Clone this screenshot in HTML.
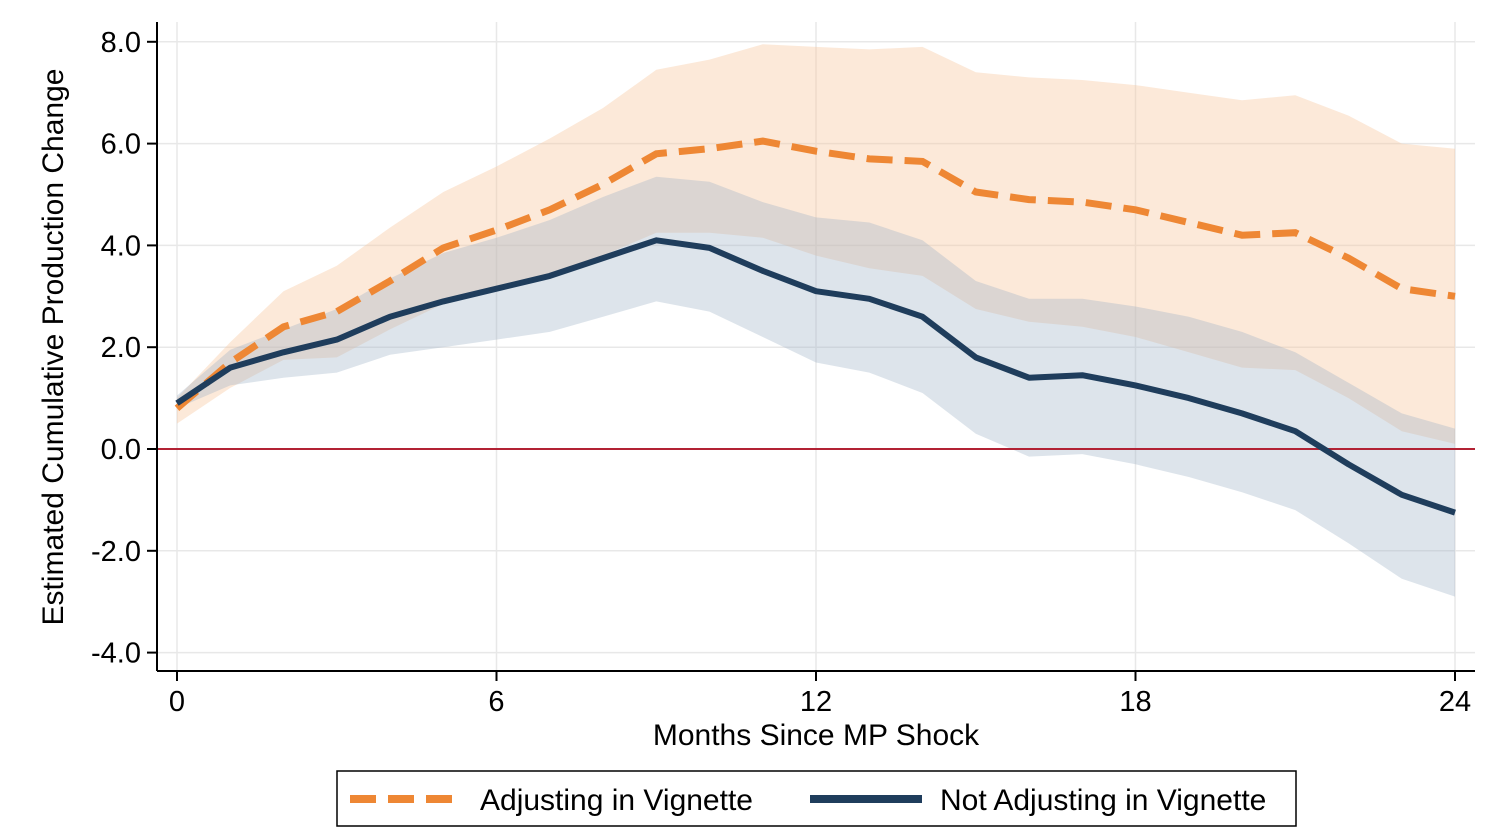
<!DOCTYPE html>
<html><head><meta charset="utf-8"><style>
html,body{margin:0;padding:0;background:#fff;}
svg{display:block;font-family:"Liberation Sans",Arial,sans-serif;}
</style></head><body>
<svg id="s" width="1492" height="835" viewBox="0 0 1492 835" xmlns="http://www.w3.org/2000/svg">
<g id="grid" stroke="#e8e8e8" stroke-width="1.5"></g>
<g id="bands"></g>
<line x1="158" y1="449" x2="1475" y2="449" stroke="#b22234" stroke-width="2"/>
<g id="lines"></g>
<line x1="157" y1="22" x2="157" y2="671" stroke="#000" stroke-width="2"/>
<line x1="157" y1="671" x2="1475" y2="671" stroke="#000" stroke-width="2"/>
<g id="ticks" font-size="29" fill="#000"></g>
<text x="816" y="745" font-size="30" text-anchor="middle">Months Since MP Shock</text>
<text transform="translate(63,347) rotate(-90)" font-size="30" text-anchor="middle">Estimated Cumulative Production Change</text>
<rect x="337" y="771" width="959" height="55" fill="#fff" stroke="#000" stroke-width="1.5"/>
<line x1="350" y1="799" x2="462" y2="799" stroke="#ee8734" stroke-width="8" stroke-dasharray="26,12"/>
<text x="480" y="810" font-size="30">Adjusting in Vignette</text>
<line x1="810" y1="799" x2="922" y2="799" stroke="#1f3d5c" stroke-width="8"/>
<text x="940" y="810" font-size="30">Not Adjusting in Vignette</text>
</svg>
<script>
var X=m=>177+m*53.25, Y=v=>449-v*50.9;
var o=[0.8,1.7,2.4,2.7,3.3,3.95,4.3,4.7,5.2,5.8,5.9,6.05,5.85,5.7,5.65,5.05,4.9,4.85,4.7,4.45,4.2,4.25,3.75,3.15,3.0];
var ou=[1.0,2.1,3.1,3.6,4.35,5.05,5.55,6.1,6.7,7.45,7.65,7.95,7.9,7.85,7.9,7.4,7.3,7.25,7.15,7.0,6.85,6.95,6.55,6.0,5.9];
var ol=[0.5,1.2,1.75,1.8,2.35,2.85,3.1,3.45,3.8,4.25,4.25,4.15,3.8,3.55,3.4,2.75,2.5,2.4,2.2,1.9,1.6,1.55,1.0,0.35,0.1];
var b=[0.9,1.6,1.9,2.15,2.6,2.9,3.15,3.4,3.75,4.1,3.95,3.5,3.1,2.95,2.6,1.8,1.4,1.45,1.25,1.0,0.7,0.35,-0.3,-0.9,-1.25];
var bu=[1.05,1.95,2.35,2.75,3.35,3.85,4.15,4.5,4.95,5.35,5.25,4.85,4.55,4.45,4.1,3.3,2.95,2.95,2.8,2.6,2.3,1.9,1.3,0.7,0.4];
var bl=[0.8,1.25,1.4,1.5,1.85,2.0,2.15,2.3,2.6,2.9,2.7,2.2,1.7,1.5,1.1,0.3,-0.15,-0.1,-0.3,-0.55,-0.85,-1.2,-1.85,-2.55,-2.9];
var NS="http://www.w3.org/2000/svg";
function el(p,t,a,txt){var e=document.createElementNS(NS,t);for(var k in a)e.setAttribute(k,a[k]);if(txt!=null)e.textContent=txt;document.getElementById(p).appendChild(e);}
function pts(a){return a.map((v,i)=>X(i).toFixed(1)+","+Y(v).toFixed(1)).join(" ");}
function band(u,l){return pts(u)+" "+l.map((v,i)=>[i,v]).reverse().map(p=>X(p[0]).toFixed(1)+","+Y(p[1]).toFixed(1)).join(" ");}
[8,6,4,2,-2,-4].forEach(v=>el("grid","line",{x1:158,x2:1475,y1:Y(v),y2:Y(v)}));
[0,6,12,18,24].forEach(m=>el("grid","line",{x1:X(m),x2:X(m),y1:22,y2:671}));
el("bands","polygon",{points:band(ou,ol),fill:"#f7c9a0","fill-opacity":"0.4"});
el("bands","polygon",{points:band(bu,bl),fill:"#9fb2c6","fill-opacity":"0.35"});
el("lines","polyline",{points:pts(o),fill:"none",stroke:"#ee8734","stroke-width":7,"stroke-dasharray":"26,12"});
el("lines","polyline",{points:pts(b),fill:"none",stroke:"#1f3d5c","stroke-width":6,"stroke-linejoin":"round"});
[8,6,4,2,0,-2,-4].forEach(v=>{el("ticks","line",{x1:147,x2:157,y1:Y(v),y2:Y(v),stroke:"#000","stroke-width":2});
el("ticks","text",{x:141,y:Y(v)+10,"text-anchor":"end"},v.toFixed(1));});
[0,6,12,18,24].forEach(m=>{el("ticks","line",{x1:X(m),x2:X(m),y1:671,y2:681,stroke:"#000","stroke-width":2});
el("ticks","text",{x:X(m),y:711,"text-anchor":"middle"},String(m));});
</script>
</body></html>
